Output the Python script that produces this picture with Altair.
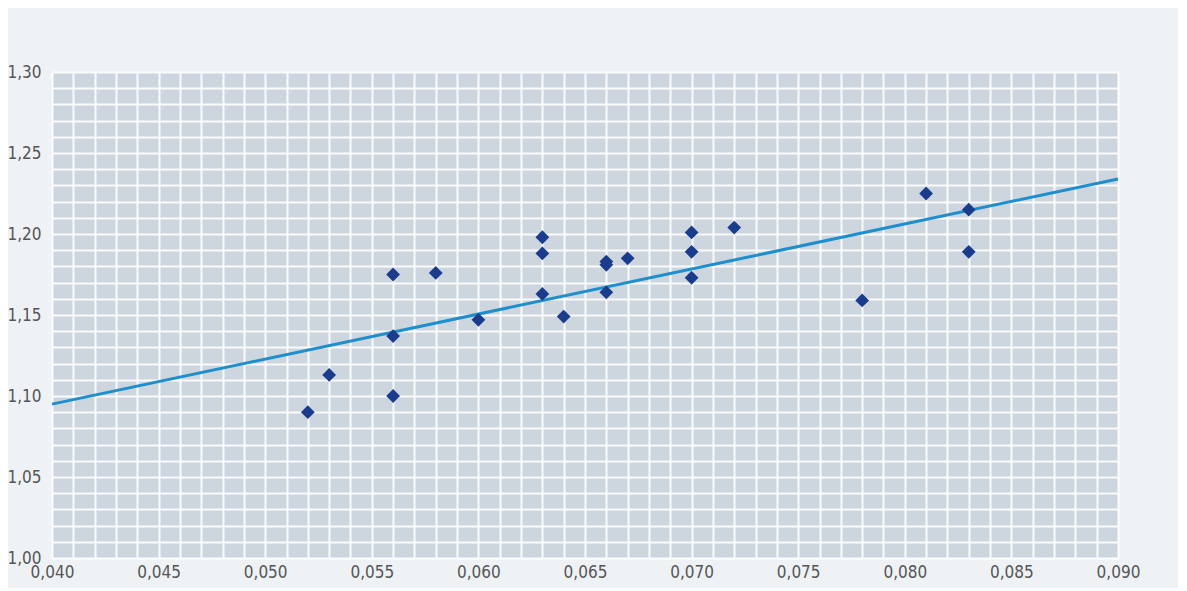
import altair as alt
import pandas as pd

# Scatter data
x_vals = [0.052, 0.053, 0.056, 0.056, 0.056, 0.058, 0.060, 0.063, 0.063, 0.063,
          0.064, 0.066, 0.066, 0.066, 0.067, 0.070, 0.070, 0.070, 0.072, 0.078,
          0.081, 0.083, 0.083]
y_vals = [1.090, 1.113, 1.175, 1.137, 1.100, 1.176, 1.147, 1.198, 1.188, 1.163,
          1.149, 1.183, 1.181, 1.164, 1.185, 1.201, 1.189, 1.173, 1.204, 1.159,
          1.225, 1.215, 1.189]

# Trend line end points
trend_x = [0.040, 0.090]
trend_y = [1.095, 1.234]

# Grid / tick values
x_ticks = [round(0.040 + i * 0.001, 3) for i in range(51)]
y_ticks = [round(1.00 + i * 0.01, 2) for i in range(31)]

pts = pd.DataFrame({"x": x_vals, "y": y_vals})
trend = pd.DataFrame({"x": trend_x, "y": trend_y})

FONT = "DejaVu Sans Condensed"

x_scale = alt.Scale(domain=[0.040, 0.090], nice=False, zero=False)
y_scale = alt.Scale(domain=[1.00, 1.30], nice=False, zero=False)

def x_axis():
    return alt.Axis(
        values=x_ticks,
        labelExpr="round(datum.value*1000) % 5 == 0 ? replace(format(datum.value, '.3f'), '.', ',') : ''",
        grid=True, gridColor="white", gridWidth=2, gridOpacity=0.9,
        ticks=False, domain=False, title=None,
        labelFont=FONT, labelFontSize=17, labelColor="#555555",
        labelPadding=6, labelOverlap=False, labelFlush=False,
    )

def y_axis():
    return alt.Axis(
        values=y_ticks,
        labelExpr="round(datum.value*100) % 5 == 0 ? replace(format(datum.value, '.2f'), '.', ',') : ''",
        grid=True, gridColor="white", gridWidth=2, gridOpacity=0.9,
        ticks=False, domain=False, title=None,
        labelFont=FONT, labelFontSize=17, labelColor="#555555",
        labelPadding=11, labelOverlap=False, labelFlush=False,
    )

line = alt.Chart(trend).mark_line(color="#1e8fcc", strokeWidth=3).encode(
    x=alt.X("x:Q", scale=x_scale, axis=x_axis()),
    y=alt.Y("y:Q", scale=y_scale, axis=y_axis()),
)

points = alt.Chart(pts).mark_point(
    shape="diamond", filled=True, size=190, color="#1b3c8c", opacity=1
).encode(
    x=alt.X("x:Q", scale=x_scale, axis=x_axis()),
    y=alt.Y("y:Q", scale=y_scale, axis=y_axis()),
)

chart = (
    alt.layer(line, points)
    .properties(
        width=1066, height=486,
        autosize=alt.AutoSizeParams(type="none"),
        padding={"left": 44, "top": 64, "right": 60, "bottom": 30},
        background="#eef2f5",
    )
    .configure_view(fill="#cdd6de", stroke=None)
)

chart.save("out.html", embed_options={"renderer": "svg", "actions": False})
